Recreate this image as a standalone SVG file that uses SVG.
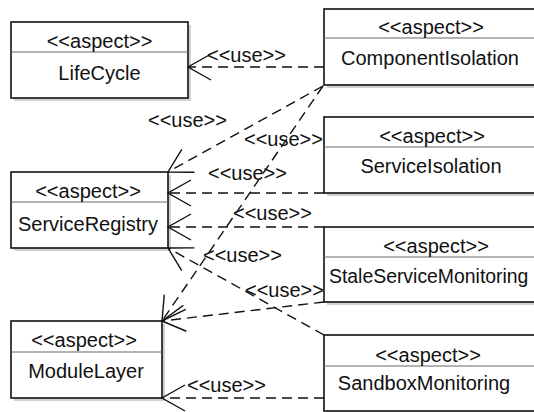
<svg xmlns="http://www.w3.org/2000/svg" width="534" height="412" viewBox="0 0 534 412">
<style>
  text { font-family: "Liberation Sans", Arial, sans-serif; font-size: 20px; fill: #111; }
  .box { fill: #fff; stroke: #111; stroke-width: 1.6; }
  .shadow { fill: #999; opacity: 0.45; }
  .div { stroke: #666; stroke-width: 1; }
  .c { text-anchor: middle; }
  .edge { fill: none; stroke: #111; stroke-width: 1.4; stroke-dasharray: 10 6; marker-end: url(#open); }
</style>
<defs>
  <marker id="open" markerUnits="userSpaceOnUse" markerWidth="40" markerHeight="40" viewBox="-30 -20 40 40" refX="0" refY="0" orient="auto" overflow="visible">
    <path d="M-23,-13 L0,0 L-23,13" fill="none" stroke="#111" stroke-width="1.4" stroke-dasharray="none"/>
  </marker>
</defs>
<rect width="534" height="412" fill="#fff"/>

<g id="LifeCycle">
  <rect class="shadow" x="14" y="25" width="177" height="76"/>
  <rect class="box" x="11" y="22" width="177" height="76"/>
  <line class="div" x1="11" y1="52" x2="188" y2="52"/>
  <text class="c" x="99.5" y="48">&lt;&lt;aspect&gt;&gt;</text>
  <text class="c" x="99.5" y="80">LifeCycle</text>
</g>

<g id="ComponentIsolation">
  <rect class="shadow" x="327" y="12" width="212" height="76"/>
  <rect class="box" x="324" y="9" width="212" height="76"/>
  <line class="div" x1="324" y1="38" x2="536" y2="38"/>
  <text class="c" x="431" y="34">&lt;&lt;aspect&gt;&gt;</text>
  <text class="c" x="430" y="65">ComponentIsolation</text>
</g>

<g id="ServiceIsolation">
  <rect class="shadow" x="327" y="120" width="212" height="76"/>
  <rect class="box" x="324" y="117" width="212" height="76"/>
  <line class="div" x1="324" y1="147" x2="536" y2="147"/>
  <text class="c" x="432" y="143">&lt;&lt;aspect&gt;&gt;</text>
  <text class="c" x="431" y="173">ServiceIsolation</text>
</g>

<g id="ServiceRegistry">
  <rect class="shadow" x="14" y="175" width="157" height="76"/>
  <rect class="box" x="11" y="172" width="157" height="76"/>
  <line class="div" x1="11" y1="202" x2="168" y2="202"/>
  <text class="c" x="88" y="198">&lt;&lt;aspect&gt;&gt;</text>
  <text class="c" x="88" y="231">ServiceRegistry</text>
</g>

<g id="StaleServiceMonitoring">
  <rect class="shadow" x="327" y="230" width="225" height="75"/>
  <rect class="box" x="324" y="227" width="225" height="75"/>
  <line class="div" x1="324" y1="257" x2="549" y2="257"/>
  <text class="c" x="436" y="253">&lt;&lt;aspect&gt;&gt;</text>
  <text x="329" y="283" style="font-size:19.4px">StaleServiceMonitoring</text>
</g>

<g id="ModuleLayer">
  <rect class="shadow" x="14" y="324" width="151" height="77"/>
  <rect class="box" x="11" y="321" width="151" height="77"/>
  <line class="div" x1="11" y1="352" x2="162" y2="352"/>
  <text class="c" x="84" y="347">&lt;&lt;aspect&gt;&gt;</text>
  <text class="c" x="86" y="378">ModuleLayer</text>
</g>

<g id="SandboxMonitoring">
  <rect class="shadow" x="327" y="338" width="212" height="76"/>
  <rect class="box" x="324" y="335" width="212" height="76"/>
  <line class="div" x1="324" y1="366" x2="536" y2="366"/>
  <text class="c" x="428" y="362">&lt;&lt;aspect&gt;&gt;</text>
  <text class="c" x="424" y="390">SandboxMonitoring</text>
</g>

<g id="connectors">
  <line class="edge" x1="324" y1="67" x2="188" y2="67"/>
  <line class="edge" x1="323" y1="86" x2="168" y2="172"/>
  <line class="edge" x1="323" y1="86" x2="162" y2="321"/>
  <line class="edge" x1="324" y1="193" x2="168" y2="193"/>
  <line class="edge" x1="324" y1="227" x2="168" y2="227"/>
  <line class="edge" x1="324" y1="335" x2="168" y2="248"/>
  <line class="edge" x1="324" y1="302" x2="162" y2="321"/>
  <line class="edge" x1="324" y1="398" x2="162" y2="398"/>
  <text x="207" y="62">&lt;&lt;use&gt;&gt;</text>
  <text x="148" y="127">&lt;&lt;use&gt;&gt;</text>
  <text x="244" y="146">&lt;&lt;use&gt;&gt;</text>
  <text x="208" y="180">&lt;&lt;use&gt;&gt;</text>
  <text x="233" y="220">&lt;&lt;use&gt;&gt;</text>
  <text x="203" y="262">&lt;&lt;use&gt;&gt;</text>
  <text x="245" y="297">&lt;&lt;use&gt;&gt;</text>
  <text x="187" y="392">&lt;&lt;use&gt;&gt;</text>
</g>
</svg>
